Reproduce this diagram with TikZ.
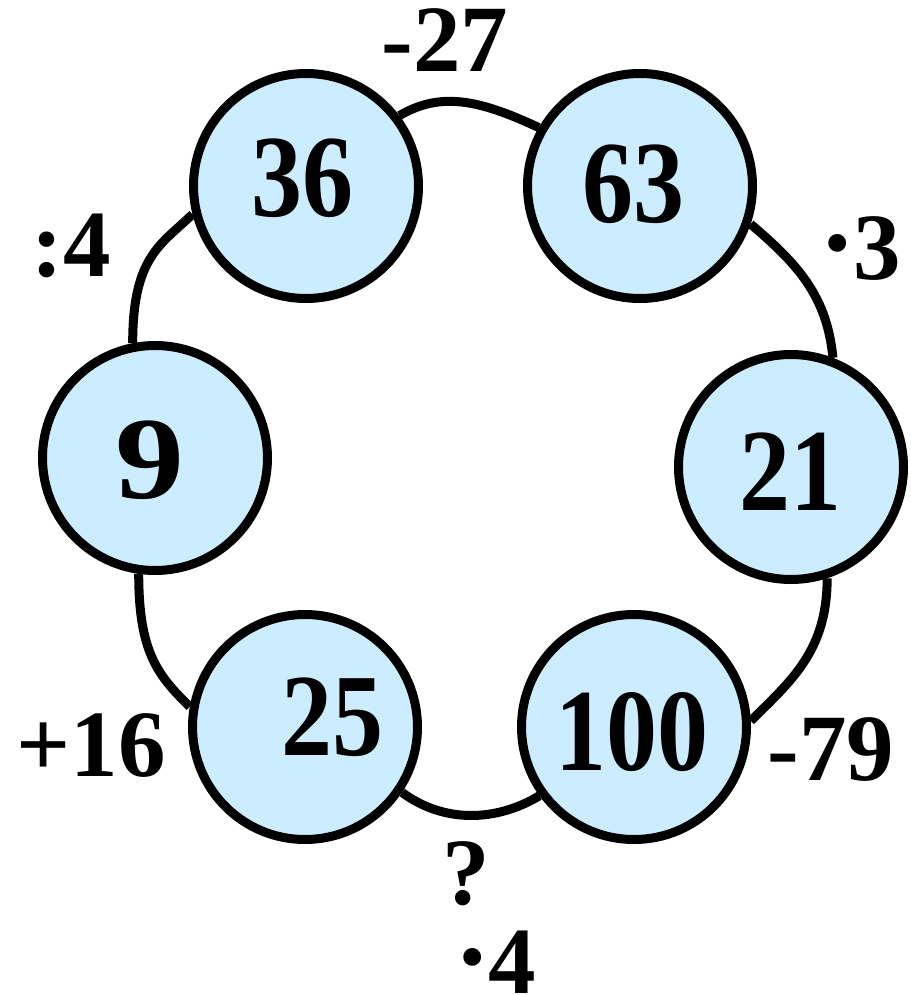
\documentclass[tikz,border=0pt]{standalone}
\usepackage{fontspec}
\setmainfont{Liberation Serif}
\usepackage{graphicx}
\definecolor{cfill}{RGB}{204,236,255}
\begin{document}
\begin{tikzpicture}[x=1pt,y=-1pt,
  ball/.style={circle,draw=black,line width=9pt,fill=cfill,minimum size=225pt,inner sep=0pt},
  num/.style={font=\fontsize{102}{102}\selectfont\bfseries,inner sep=0pt},
  op/.style={font=\fontsize{95}{95}\selectfont\bfseries,inner sep=0pt},
  link/.style={line width=9pt}]
\useasboundingbox (0,0) rectangle (910,995);
% circles
\node[ball] (n36) at (306,186) {};
\node[ball] (n63) at (640,186) {};
\node[ball] (n9) at (155,458) {};
\node[ball] (n21) at (791,467) {};
\node[ball] (n25) at (305,727) {};
\node[ball] (n100) at (634,727) {};
% numbers
\node[num] (t36) at (302,178) {\scalebox{1}[1.15]{36}};
\node[num] (t63) at (633,184) {\scalebox{1}[1.15]{63}};
\node[num] (t9) at (150,460) {\scalebox{1.35}[1.15]{9}};
\node[num] (t21) at (790,472) {\scalebox{1}[1.15]{21}};
\node[num] (t25) at (332,717) {\scalebox{1}[1.15]{25}};
\node[num] (t100) at (632,732) {\scalebox{1}[1.15]{100}};
% connectors
\draw[link] (n9.101) .. controls +(0,-87) and +(-31,30) .. (n36.194);
\draw[link] (n36.37) .. controls +(41,-24) and +(-60,-28) .. (n63.150);
\draw[link] (n63.-19) .. controls +(47,40) and +(-6,-62) .. (n21.69);
\draw[link] (n21.-72) .. controls +(0,73) and +(40,-40) .. (n100.3);
\draw[link] (n25.-34) .. controls +(42,31) and +(-43,26) .. (n100.216);
\draw[link] (n9.262) .. controls +(0,77) and +(-33,-32) .. (n25.170);
% operation labels
\node[op] (l1) at (445,40.5) {-27};
\node[op] (l2) at (71.5,245.5) {:4};
\node[op] (l3) at (860,249) {\scalebox{1.15}{·}\kern-2pt3};
\node[op] (l4) at (831,750) {-79};
\node[op] (l5) at (91,745.5) {+16};
\node[op] (l6) at (466,873.5) {?};
\node[op] (l7) at (495.5,962.5) {\scalebox{1.15}{·}\kern-2pt4};
\end{tikzpicture}
\end{document}
